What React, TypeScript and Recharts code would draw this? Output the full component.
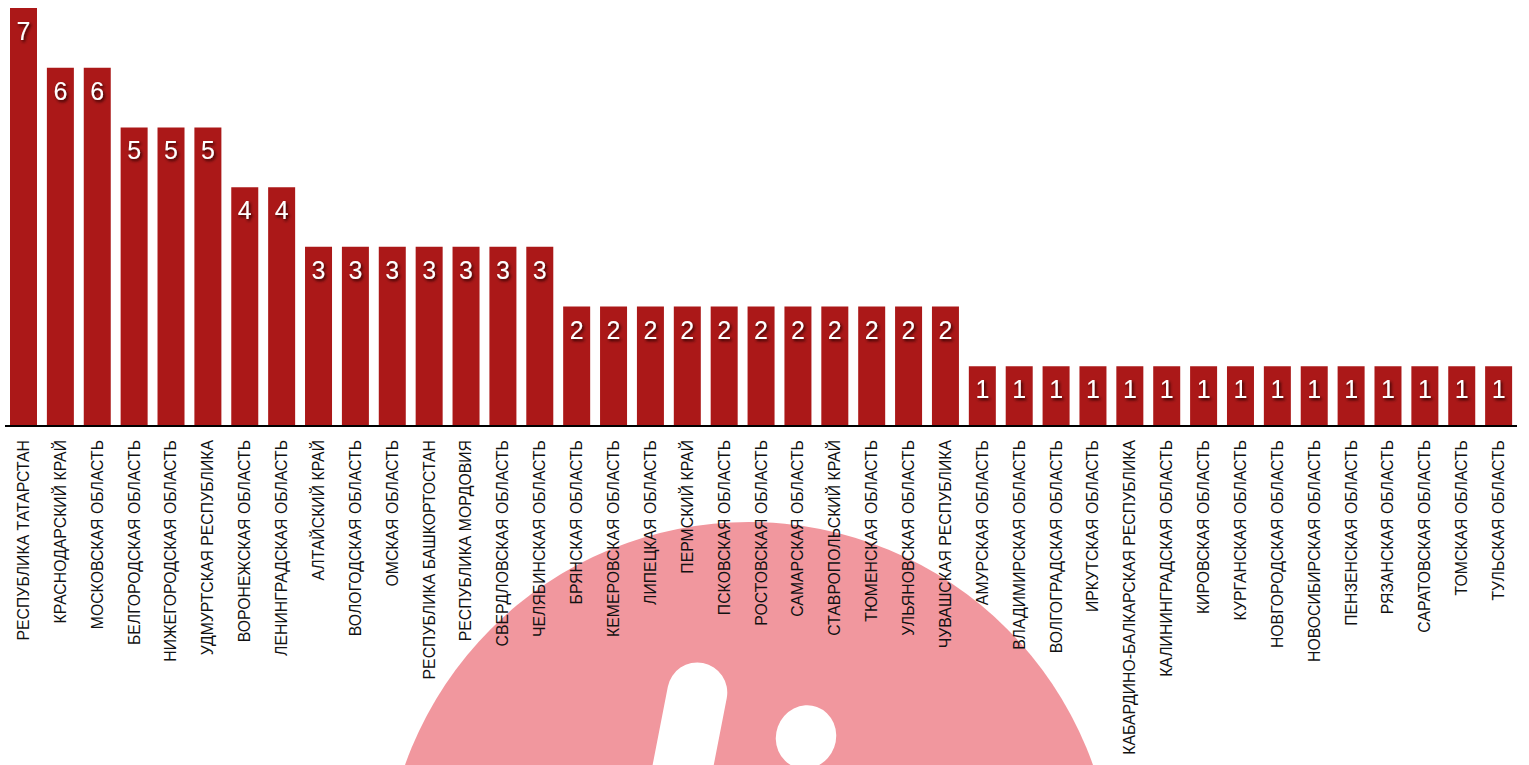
import React from 'react';
import { BarChart, Bar, XAxis, YAxis, LabelList } from 'recharts';

// регионы и количество
const regions = [
  'РЕСПУБЛИКА ТАТАРСТАН',
  'КРАСНОДАРСКИЙ КРАЙ',
  'МОСКОВСКАЯ ОБЛАСТЬ',
  'БЕЛГОРОДСКАЯ ОБЛАСТЬ',
  'НИЖЕГОРОДСКАЯ ОБЛАСТЬ',
  'УДМУРТСКАЯ РЕСПУБЛИКА',
  'ВОРОНЕЖСКАЯ ОБЛАСТЬ',
  'ЛЕНИНГРАДСКАЯ ОБЛАСТЬ',
  'АЛТАЙСКИЙ КРАЙ',
  'ВОЛОГОДСКАЯ ОБЛАСТЬ',
  'ОМСКАЯ ОБЛАСТЬ',
  'РЕСПУБЛИКА БАШКОРТОСТАН',
  'РЕСПУБЛИКА МОРДОВИЯ',
  'СВЕРДЛОВСКАЯ ОБЛАСТЬ',
  'ЧЕЛЯБИНСКАЯ ОБЛАСТЬ',
  'БРЯНСКАЯ ОБЛАСТЬ',
  'КЕМЕРОВСКАЯ ОБЛАСТЬ',
  'ЛИПЕЦКАЯ ОБЛАСТЬ',
  'ПЕРМСКИЙ КРАЙ',
  'ПСКОВСКАЯ ОБЛАСТЬ',
  'РОСТОВСКАЯ ОБЛАСТЬ',
  'САМАРСКАЯ ОБЛАСТЬ',
  'СТАВРОПОЛЬСКИЙ КРАЙ',
  'ТЮМЕНСКАЯ ОБЛАСТЬ',
  'УЛЬЯНОВСКАЯ ОБЛАСТЬ',
  'ЧУВАШСКАЯ РЕСПУБЛИКА',
  'АМУРСКАЯ ОБЛАСТЬ',
  'ВЛАДИМИРСКАЯ ОБЛАСТЬ',
  'ВОЛГОГРАДСКАЯ ОБЛАСТЬ',
  'ИРКУТСКАЯ ОБЛАСТЬ',
  'КАБАРДИНО-БАЛКАРСКАЯ РЕСПУБЛИКА',
  'КАЛИНИНГРАДСКАЯ ОБЛАСТЬ',
  'КИРОВСКАЯ ОБЛАСТЬ',
  'КУРГАНСКАЯ ОБЛАСТЬ',
  'НОВГОРОДСКАЯ ОБЛАСТЬ',
  'НОВОСИБИРСКАЯ ОБЛАСТЬ',
  'ПЕНЗЕНСКАЯ ОБЛАСТЬ',
  'РЯЗАНСКАЯ ОБЛАСТЬ',
  'САРАТОВСКАЯ ОБЛАСТЬ',
  'ТОМСКАЯ ОБЛАСТЬ',
  'ТУЛЬСКАЯ ОБЛАСТЬ',
];

const counts = [
  7, 6, 6, 5, 5, 5, 4, 4,
  3, 3, 3, 3, 3, 3, 3,
  2, 2, 2, 2, 2, 2, 2, 2, 2, 2, 2,
  1, 1, 1, 1, 1, 1, 1, 1, 1, 1, 1, 1, 1, 1, 1,
];

const barColor = '#ab1818';
const FONT = '"Liberation Sans", Arial, sans-serif';

const chartData = regions.map((name, i) => ({ name, value: counts[i] }));

// подпись оси X, повёрнутая вертикально
const RegionTick = (props: any) => {
  const { x, y, payload } = props;
  return (
    <text
      x={0}
      y={0}
      transform={`translate(${x + 5.5},${y + 6}) rotate(-90)`}
      textAnchor="end"
      fontSize={15.8}
      fontFamily={FONT}
      fill="#111"
    >
      {payload.value}
    </text>
  );
};

// белая цифра с тенью внутри столбца
const ValueLabel = (props: any) => {
  const { x, y, width, value } = props;
  const cx = Number(x) + Number(width) / 2;
  return (
    <g>
      <defs>
        <filter id="valShadow" x="-50%" y="-50%" width="200%" height="200%">
          <feDropShadow dx="1.5" dy="2" stdDeviation="1.5" floodColor="#2a0000" floodOpacity="1" />
        </filter>
      </defs>
      <text
        x={cx}
        y={Number(y) + 32}
        textAnchor="middle"
        fontSize={25}
        fontFamily={FONT}
        fill="#fff"
        filter="url(#valShadow)"
      >
        {value}
      </text>
    </g>
  );
};

export default function App() {
  return (
    <div style={{ position: 'absolute', left: 0, top: 0, width: 1529, height: 765, background: '#fff', overflow: 'hidden' }}>
      {/* фоновый логотип */}
      <svg width={1529} height={765} style={{ position: 'absolute', left: 0, top: 0 }}>
        <circle cx={749} cy={887} r={365} fill="#f1979e" />
        <rect x={-30} y={0} width={60} height={200} rx={30} fill="#fff" transform="translate(703,663) rotate(11)" />
        <ellipse cx={806} cy={737} rx={30} ry={32} fill="#fff" transform="rotate(20 806 737)" />
      </svg>
      <div style={{ position: 'absolute', left: 0, top: 0 }}>
        <BarChart
          width={1529}
          height={765}
          data={chartData}
          margin={{ top: 8, right: 12, left: 5, bottom: 0 }}
        >
          <YAxis hide domain={[0, 7]} />
          <XAxis
            dataKey="name"
            interval={0}
            height={339}
            tickLine={false}
            axisLine={{ stroke: '#000', strokeWidth: 2 }}
            tick={<RegionTick />}
          />
          <Bar dataKey="value" fill={barColor} barSize={27} isAnimationActive={false}>
            <LabelList dataKey="value" content={<ValueLabel />} />
          </Bar>
        </BarChart>
      </div>
    </div>
  );
}
